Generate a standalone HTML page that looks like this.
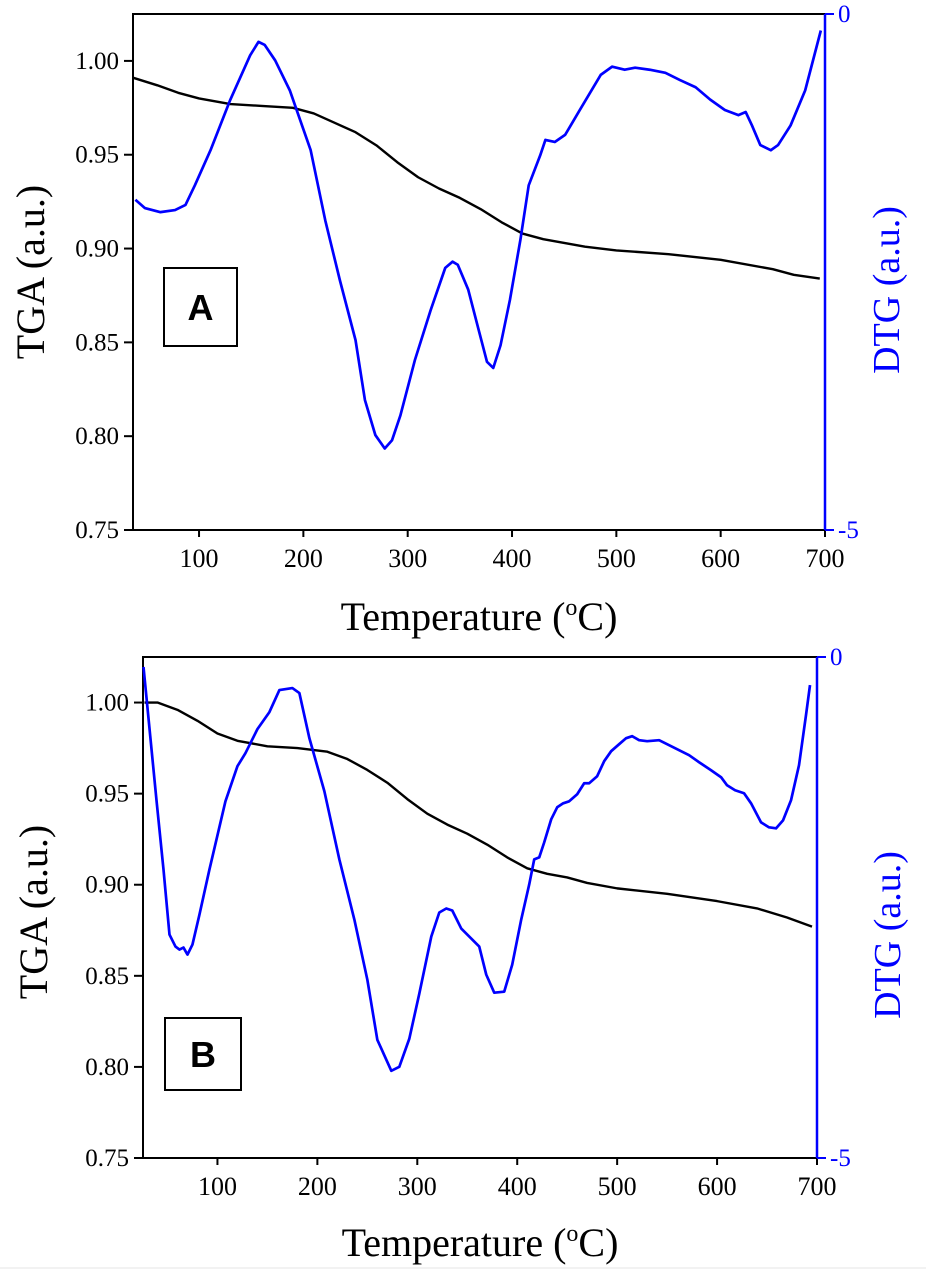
<!DOCTYPE html>
<html><head><meta charset="utf-8">
<style>
html,body{margin:0;padding:0;background:#fff;}
svg{display:block;font-family:"Liberation Serif",serif;}
</style></head>
<body>
<svg id="chart" width="926" height="1277" viewBox="0 0 926 1277">
<line x1="0" y1="1268" x2="926" y2="1268" stroke="#e6e6e6" stroke-width="1"/>
</svg>
<script>
// ---------- Panel A data ----------
const tempTgaA = [37,60,80,100,130,160,190,210,230,250,270,290,310,330,350,370,390,410,430,450,470,500,550,600,650,670,695];
const tgaA = [0.991,0.987,0.983,0.980,0.977,0.976,0.975,0.972,0.967,0.962,0.955,0.946,0.938,0.932,0.927,0.921,0.914,0.908,0.905,0.903,0.901,0.899,0.897,0.894,0.889,0.886,0.884];
const tempDtgA = [39,48,63,77,87,96,111,130,149,157,163,173,187,207,221,235,250,259,269,278,285,293,307,322,336,343,348,358,368,376,382,389,398,408,416,427,432,441,451,465,485,496,508,518,532,547,561,576,590,604,617,624,630,638,648,655,667,681,696];
const dtgA = [-1.80,-1.88,-1.92,-1.90,-1.85,-1.66,-1.32,-0.83,-0.40,-0.27,-0.30,-0.45,-0.74,-1.32,-2.00,-2.58,-3.16,-3.74,-4.08,-4.21,-4.13,-3.89,-3.35,-2.87,-2.46,-2.40,-2.43,-2.67,-3.06,-3.37,-3.43,-3.21,-2.77,-2.19,-1.66,-1.37,-1.22,-1.24,-1.17,-0.93,-0.59,-0.51,-0.54,-0.52,-0.54,-0.57,-0.64,-0.71,-0.83,-0.93,-0.98,-0.95,-1.08,-1.27,-1.32,-1.27,-1.08,-0.74,-0.16];
// ---------- Panel B data ----------
const tempTgaB = [27,40,60,80,100,120,150,180,210,230,250,270,290,310,330,350,370,390,410,430,450,470,500,550,600,640,670,695];
const tgaB = [1.000,1.000,0.996,0.990,0.983,0.979,0.976,0.975,0.973,0.969,0.963,0.956,0.947,0.939,0.933,0.928,0.922,0.915,0.909,0.906,0.904,0.901,0.898,0.895,0.891,0.887,0.882,0.877];
const tempDtgB = [26,39,46,52,58,62,66,70,75,82,92,108,120,128,140,152,162,175,182,192,207,222,237,250,260,274,282,292,302,314,322,329,335,344,362,369,377,387,395,404,412,417,422,427,434,440,446,452,460,467,472,480,487,494,502,509,515,522,530,542,552,562,572,582,594,604,610,618,627,634,644,652,659,666,674,682,689,693];
const dtgB = [-0.10,-1.43,-2.12,-2.77,-2.89,-2.92,-2.90,-2.97,-2.87,-2.57,-2.12,-1.44,-1.09,-0.96,-0.72,-0.55,-0.33,-0.31,-0.36,-0.81,-1.34,-2.02,-2.62,-3.22,-3.82,-4.13,-4.09,-3.81,-3.36,-2.79,-2.55,-2.51,-2.53,-2.71,-2.89,-3.17,-3.35,-3.34,-3.07,-2.62,-2.27,-2.02,-2.00,-1.85,-1.62,-1.50,-1.46,-1.44,-1.37,-1.26,-1.26,-1.19,-1.04,-0.94,-0.87,-0.81,-0.79,-0.83,-0.84,-0.83,-0.88,-0.93,-0.98,-1.05,-1.13,-1.20,-1.28,-1.33,-1.36,-1.46,-1.65,-1.70,-1.71,-1.63,-1.43,-1.08,-0.58,-0.28];
const xTicks = [100,200,300,400,500,600,700];
const yTicks = [0.75,0.80,0.85,0.90,0.95,1.00];
const yTickLabels = ["0.75","0.80","0.85","0.90","0.95","1.00"];

const NS = "http://www.w3.org/2000/svg";
const svg = document.getElementById('chart');
function mk(tag, attrs, parent, text) {
  const e = document.createElementNS(NS, tag);
  for (const k in attrs) e.setAttribute(k, attrs[k]);
  if (text !== undefined) e.textContent = text;
  (parent || svg).appendChild(e);
  return e;
}

function panel(p) {
  const g = mk('g', {});
  
  
  const xs = t => p.L + (t - p.t0) / (p.t1 - p.t0) * (p.R - p.L);
  const ys = v => p.B - (v - 0.75) / (1.025 - 0.75) * (p.B - p.T);
  const yd = d => p.T + (-d) / 5 * (p.B - p.T);
  const fr = mk('path', {d:`M${p.R},${p.T} L${p.L},${p.T} L${p.L},${p.B} L${p.R},${p.B}`, fill:'none', stroke:'#000', 'stroke-width':2}, g);
  
  
  xTicks.forEach(t => {
    const x = xs(t);
    mk('line', {x1:x, y1:p.B, x2:x, y2:p.B+7, stroke:'#000', 'stroke-width':2}, g);
    const lb = mk('text', {x:x, y:p.B+37, 'text-anchor':'middle', 'font-size':26, fill:'#000'}, g, String(t));
    
    
  });
  yTicks.forEach((v, i) => {
    const y = ys(v);
    mk('line', {x1:p.L-9, y1:y, x2:p.L, y2:y, stroke:'#000', 'stroke-width':2}, g);
    const lb = mk('text', {x:p.L-14, y:y+8, 'text-anchor':'end', 'font-size':25, fill:'#000'}, g, yTickLabels[i]);
    
    
  });
  const ra = mk('line', {x1:p.R, y1:p.T, x2:p.R, y2:p.B, stroke:'#00f', 'stroke-width':2.5}, g);
  
  
  [[0,'0'],[-5,'-5']].forEach(([d, s]) => {
    const y = yd(d);
    mk('line', {x1:p.R, y1:y, x2:p.R+9, y2:y, stroke:'#00f', 'stroke-width':2}, g);
    const lb = mk('text', {x:p.R+13, y:y+8, 'font-size':25, fill:'#00f'}, g, s);
    
    
  });
  const tga = mk('polyline', {points:p.tT.map((t,i)=>xs(t)+','+ys(p.tv[i])).join(' '), fill:'none', stroke:'#000', 'stroke-width':2.4, 'stroke-linejoin':'round'}, g);
  
  
  const dtg = mk('polyline', {points:p.dT.map((t,i)=>xs(t)+','+yd(p.dv[i])).join(' '), fill:'none', stroke:'#00f', 'stroke-width':2.7, 'stroke-linejoin':'round'}, g);
  
  
  const xt = mk('text', {x:(p.L+p.R)/2, y:p.xTitleY, 'text-anchor':'middle', 'font-size':40, fill:'#000'}, g);
  
  
  mk('tspan', {}, xt, 'Temperature (');
  mk('tspan', {dy:-15, 'font-size':24}, xt, 'o');
  mk('tspan', {dy:15}, xt, 'C)');
  const yt = mk('text', {x:0, y:0, 'text-anchor':'middle', 'font-size':40, fill:'#000', transform:`translate(${p.tgaX},${p.tgaY}) rotate(-90)`}, g, 'TGA (a.u.)');
  
  
  const dt = mk('text', {x:0, y:0, 'text-anchor':'middle', 'font-size':38, fill:'#00f', transform:`translate(${p.dtgX},${p.dtgY}) rotate(-90)`}, g, 'DTG (a.u.)');
  
  
  const bx = mk('rect', {x:p.bx, y:p.by, width:p.bw, height:p.bh, fill:'#fff', stroke:'#000', 'stroke-width':2}, g);
  
  
  const bl = mk('text', {x:p.bx+p.bw/2, y:p.by+p.bh/2+13, 'text-anchor':'middle', 'font-size':36, 'font-weight':'bold', 'font-family':'Liberation Sans, sans-serif', fill:'#000'}, g, p.id);
  
  
}

panel({id:'A', L:133, R:825, T:14, B:530, t0:36.7, t1:700,
  tT:tempTgaA, tv:tgaA, dT:tempDtgA, dv:dtgA,
  xTitleY:630, tgaX:44, tgaY:272, dtgX:899, dtgY:290,
  bx:164, by:268, bw:73, bh:78});
panel({id:'B', L:143, R:817, T:657, B:1158, t0:25.5, t1:700,
  tT:tempTgaB, tv:tgaB, dT:tempDtgB, dv:dtgB,
  xTitleY:1256, tgaX:47, tgaY:912, dtgX:900, dtgY:935,
  bx:165, by:1018, bw:76, bh:72});
</script>
</body></html>
